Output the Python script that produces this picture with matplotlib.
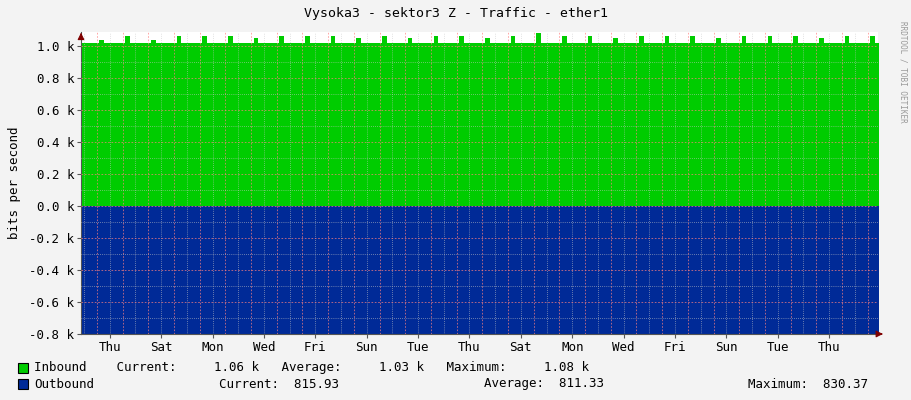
import numpy as np
import matplotlib
matplotlib.use("Agg")
import matplotlib.pyplot as plt

# time axis in days; day 0 = start of the first Thursday
day_labels = ["Thu", "Sat", "Mon", "Wed", "Fri", "Sun", "Tue", "Thu",
              "Sat", "Mon", "Wed", "Fri", "Sun", "Tue", "Thu"]
t_start, t_end = -0.62, 30.4

# per-day inbound level (k bits) and daily spike height
in_base = [1.02, 1.02, 1.02, 1.02, 1.02, 1.02, 1.02, 1.02, 1.02, 1.02,
           1.02, 1.02, 1.02, 1.02, 1.02, 1.02, 1.02, 1.02, 1.02, 1.02,
           1.02, 1.02, 1.02, 1.02, 1.02, 1.02, 1.02, 1.02, 1.02, 1.02, 1.02, 1.02]
in_peak = [1.06, 1.04, 1.06, 1.04, 1.06, 1.06, 1.06, 1.05, 1.06, 1.06,
           1.06, 1.05, 1.06, 1.05, 1.06, 1.06, 1.05, 1.06, 1.08, 1.06,
           1.06, 1.05, 1.06, 1.06, 1.06, 1.05, 1.06, 1.06, 1.06, 1.05, 1.06, 1.06]
out_base = [-0.81] * 32
out_dip = [-0.82, -0.815, -0.82, -0.815, -0.82, -0.815, -0.82, -0.82, -0.815, -0.82,
           -0.815, -0.82, -0.82, -0.815, -0.82, -0.82, -0.815, -0.82, -0.82, -0.815,
           -0.82, -0.82, -0.815, -0.82, -0.83, -0.82, -0.815, -0.82, -0.83, -0.82, -0.82, -0.82]

# expand daily values into a stepped profile (spike at ~4h after midnight)
tt, vin, vout = [], [], []
for i in range(32):
    d = i - 1
    for off, kind in [(0.0, 0), (0.1, 1), (0.28, 0), (0.6, 0)]:
        tt.append(d + off)
        vin.append(in_peak[i] if kind else in_base[i])
        vout.append(out_dip[i] if kind else out_base[i])
tt = np.array(tt); vin = np.array(vin); vout = np.array(vout)

BG = "#f3f3f3"
GREEN = "#00cc00"
BLUE = "#002a97"
MONO = "DejaVu Sans Mono"

fig = plt.figure(figsize=(9.11, 4.0), dpi=100)
fig.patch.set_facecolor(BG)
ax = fig.add_axes([81 / 911, 66 / 400, 797 / 911, 302 / 400])
ax.set_facecolor("white")
ax.fill_between(tt, 0, vin, step="post", color=GREEN, lw=0, zorder=2)
ax.fill_between(tt, 0, vout, step="post", color=BLUE, lw=0, zorder=2)
ax.set_xlim(t_start, t_end)
ax.set_ylim(-0.8, 1.0875)

# grid
for d in np.arange(0, 31):
    ax.axvline(d, color="#ff8080", lw=0.6, ls=(0, (2, 2)), alpha=0.8, zorder=3)
for d in np.arange(-0.5, 31, 1.0):
    ax.axvline(d, color="#c8c8c8", lw=0.5, ls=(0, (1, 2)), zorder=3)
for y in np.arange(-0.8, 1.05, 0.2):
    ax.axhline(y, color="#ff8080", lw=0.6, ls=(0, (2, 2)), alpha=0.8, zorder=3)
for y in np.arange(-0.7, 1.05, 0.2):
    ax.axhline(y, color="#c8c8c8", lw=0.5, ls=(0, (1, 2)), zorder=3)

ax.set_xticks([0.5 + 2 * i for i in range(len(day_labels))])
ax.set_xticklabels(day_labels, family=MONO, fontsize=9)
yt = [-0.8, -0.6, -0.4, -0.2, 0.0, 0.2, 0.4, 0.6, 0.8, 1.0]
ax.set_yticks(yt)
ax.set_yticklabels([f"{v:.1f} k" for v in yt], family=MONO, fontsize=9)
ax.tick_params(length=3, color="#555555", pad=2)
for s in ("top", "right"):
    ax.spines[s].set_visible(False)
for s in ("left", "bottom"):
    ax.spines[s].set_color("#555555")
ax.set_ylabel("bits per second", family=MONO, fontsize=9, labelpad=6)
ax.annotate("", xy=(t_start, 1.1), xytext=(t_start, 1.05), xycoords="data",
            arrowprops=dict(arrowstyle="-|>", color="#800000", lw=0.8), annotation_clip=False)
ax.annotate("", xy=(t_end + 0.3, -0.8), xytext=(t_end, -0.8), xycoords="data",
            arrowprops=dict(arrowstyle="-|>", color="#800000", lw=0.8), annotation_clip=False)

fig.text(0.5, 1 - 14 / 400, "Vysoka3 - sektor3 Z - Traffic - ether1", ha="center",
         va="center", family=MONO, fontsize=9.5)
fig.text(1 - 8 / 911, 0.82, "RRDTOOL / TOBI OETIKER", rotation=270, ha="center",
         va="center", family=MONO, fontsize=5.5, color="#999999")

# legend
for y, col in [(368, GREEN), (384, BLUE)]:
    fig.patches.append(plt.Rectangle((18 / 911, 1 - (y + 5) / 400), 10 / 911, 10 / 400,
                                     transform=fig.transFigure, facecolor=col,
                                     edgecolor="black", lw=0.8))
row1 = 1 - 368 / 400
row2 = 1 - 384 / 400
fig.text(34 / 911, row1, "Inbound    Current:     1.06 k   Average:     1.03 k   Maximum:     1.08 k",
         va="center", family=MONO, fontsize=9)
fig.text(34 / 911, row2, "Outbound", va="center", family=MONO, fontsize=9)
fig.text(219 / 911, row2, "Current:  815.93", va="center", family=MONO, fontsize=9)
fig.text(484 / 911, row2, "Average:  811.33", va="center", family=MONO, fontsize=9)
fig.text(748 / 911, row2, "Maximum:  830.37", va="center", family=MONO, fontsize=9)

fig.savefig("out.png", facecolor=BG)
